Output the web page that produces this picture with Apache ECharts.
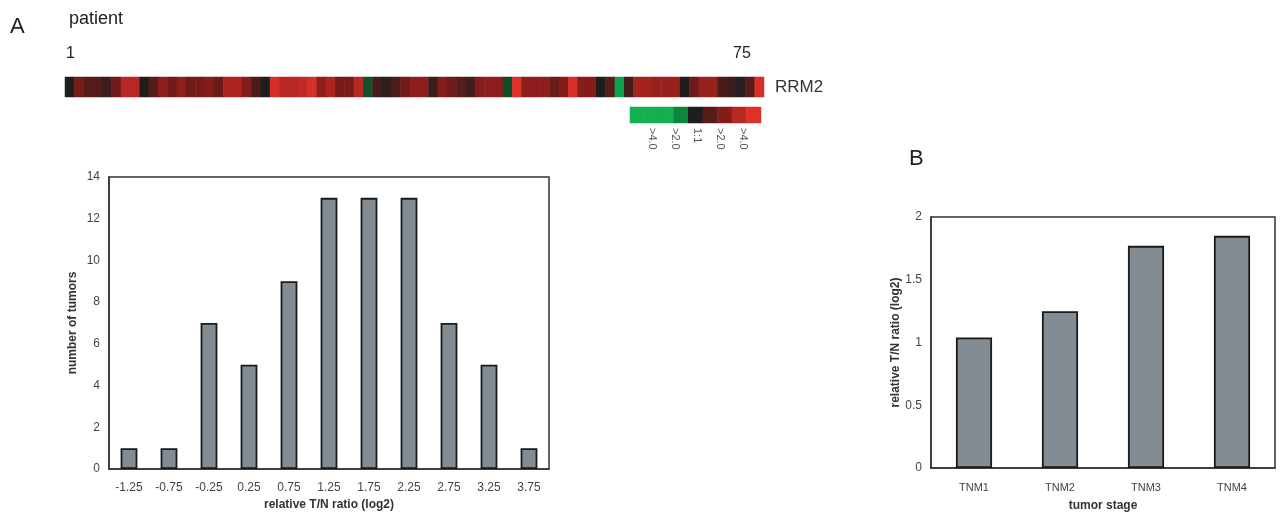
<!DOCTYPE html>
<html>
<head>
<meta charset="utf-8">
<script src="https://cdn.jsdelivr.net/npm/echarts@6/dist/echarts.min.js"></script>
<style>
  html, body { margin: 0; padding: 0; background: #fff; }
  #main { width: 1281px; height: 516px; }
</style>
</head>
<body>
<div id="main"></div>
<script>
// heatmap strip: log2 T/N ratio per patient (estimated from colours)
const patients = [];
for (let i = 1; i <= 75; i++) patients.push(String(i));
const rrm2Values = [
  0.0, 1.0, 0.6, 0.6, 0.3, 0.9, 1.6, 1.6, 0.0, 0.6,
  1.2, 0.9, 1.2, 0.9, 1.0, 1.1, 0.8, 1.5, 1.5, 1.1,
  0.5, 0.0, 1.9, 1.6, 1.6, 1.7, 1.9, 1.2, 1.5, 1.0,
  1.0, 1.6, -0.7, 0.4, 0.2, 0.5, 0.9, 1.2, 1.2, 0.3,
  1.1, 0.9, 0.6, 0.4, 1.1, 1.2, 1.2, -0.6, 2.0, 1.2,
  1.2, 1.2, 0.8, 1.1, 1.9, 1.1, 1.1, 0.0, 0.6, -1.8,
  0.4, 1.4, 1.4, 1.3, 1.3, 1.3, 0.0, 0.9, 1.3, 1.3,
  0.5, 0.3, 0.1, 0.6, 1.9
];
// colour key steps
const legendSteps = [-2, -2, -2, -1.4, 0, 0.6, 1.1, 1.6, 2];
const legendLabels = ['>4.0', '>2.0', '1:1', '>2.0', '>4.0'];

// histogram
const ratioBins = ['-1.25', '-0.75', '-0.25', '0.25', '0.75', '1.25', '1.75', '2.25', '2.75', '3.25', '3.75'];
const tumorCounts = [1, 1, 7, 5, 9, 13, 13, 13, 7, 5, 1];

// panel B
const stages = ['TNM1', 'TNM2', 'TNM3', 'TNM4'];
const stageRatios = [1.04, 1.25, 1.77, 1.85];

const font = 'Liberation Sans, Arial, sans-serif';
const chart = echarts.init(document.getElementById('main'));

const heatData = rrm2Values.map((v, i) => [i, 0, v]);
const keyData = legendSteps.map((v, i) => [i, 0, v]);
const keyX = [652, 675, 697, 720, 743];

const barStyle = {
  color: '#848c93',
  borderColor: '#1a1a1a',
  borderWidth: 1.8
};

const option = {
  backgroundColor: '#fff',
  textStyle: { fontFamily: font },
  animation: false,
  visualMap: {
    show: false,
    min: -2,
    max: 2,
    seriesIndex: [0, 1],
    inRange: { color: ['#12b050', '#0a6a30', '#1e1e1e', '#7a1a18', '#e0302a'] }
  },
  grid: [
    { left: 65, top: 77, width: 699, height: 20 },
    { left: 630, top: 107, width: 131, height: 16 },
    { left: 109, top: 177, width: 440, height: 292, show: true, borderColor: '#333', borderWidth: 1.5 },
    { left: 931, top: 217, width: 344, height: 251, show: true, borderColor: '#333', borderWidth: 1.5 }
  ],
  xAxis: [
    { gridIndex: 0, type: 'category', data: patients, show: false },
    { gridIndex: 1, type: 'category', data: legendSteps.map((v, i) => i), show: false },
    {
      gridIndex: 2, type: 'category', data: ratioBins,
      axisLine: { lineStyle: { color: '#333', width: 1.5 } },
      axisTick: { show: false },
      axisLabel: { color: '#444', fontSize: 12, margin: 13 },
      name: 'relative T/N ratio (log2)', nameLocation: 'middle', nameGap: 27,
      nameTextStyle: { color: '#333', fontSize: 12, fontWeight: 'bold' }
    },
    {
      gridIndex: 3, type: 'category', data: stages,
      axisLine: { lineStyle: { color: '#333', width: 1.5 } },
      axisTick: { show: false },
      axisLabel: { color: '#444', fontSize: 11, margin: 14 },
      name: 'tumor stage', nameLocation: 'middle', nameGap: 32,
      nameTextStyle: { color: '#333', fontSize: 12, fontWeight: 'bold' }
    }
  ],
  yAxis: [
    {
      gridIndex: 0, type: 'category', data: ['RRM2'], position: 'right',
      axisLine: { show: false }, axisTick: { show: false },
      axisLabel: { color: '#333', fontSize: 17, margin: 11 }
    },
    { gridIndex: 1, type: 'category', data: [''], show: false },
    {
      gridIndex: 2, type: 'value', min: 0, max: 14, interval: 2,
      splitLine: { show: false },
      axisLine: { show: true, lineStyle: { color: '#333', width: 1.5 } },
      axisTick: { show: false },
      axisLabel: { color: '#444', fontSize: 12, margin: 9 },
      name: 'number of tumors', nameLocation: 'middle', nameGap: 30,
      nameTextStyle: { color: '#333', fontSize: 12, fontWeight: 'bold' }
    },
    {
      gridIndex: 3, type: 'value', min: 0, max: 2, interval: 0.5,
      splitLine: { show: false },
      axisLine: { show: true, lineStyle: { color: '#333', width: 1.5 } },
      axisTick: { show: false },
      axisLabel: { color: '#444', fontSize: 12, margin: 9 },
      name: 'relative T/N ratio (log2)', nameLocation: 'middle', nameGap: 29,
      nameTextStyle: { color: '#333', fontSize: 12, fontWeight: 'bold' }
    }
  ],
  series: [
    { type: 'heatmap', xAxisIndex: 0, yAxisIndex: 0, data: heatData, itemStyle: { borderWidth: 0 } },
    { type: 'heatmap', xAxisIndex: 1, yAxisIndex: 1, data: keyData, itemStyle: { borderWidth: 0 } },
    { type: 'bar', xAxisIndex: 2, yAxisIndex: 2, data: tumorCounts, barWidth: '42%', itemStyle: barStyle },
    { type: 'bar', xAxisIndex: 3, yAxisIndex: 3, data: stageRatios, barWidth: '42%', itemStyle: barStyle }
  ],
  graphic: [
    { type: 'text', left: 10, top: 16, style: { text: 'A', fontSize: 22, fill: '#222', fontFamily: font } },
    { type: 'text', left: 69, top: 10, style: { text: 'patient', fontSize: 18, fill: '#222', fontFamily: font } },
    { type: 'text', left: 66, top: 46, style: { text: '1', fontSize: 16, fill: '#222', fontFamily: font } },
    { type: 'text', left: 733, top: 46, style: { text: '75', fontSize: 16, fill: '#222', fontFamily: font } },
    { type: 'text', left: 909, top: 148, style: { text: 'B', fontSize: 22, fill: '#222', fontFamily: font } }
  ].concat(legendLabels.map((t, i) => ({
    type: 'text', x: keyX[i], y: 128, rotation: -Math.PI / 2,
    style: { text: t, fontSize: 11, fill: '#555', fontFamily: font, align: 'left', verticalAlign: 'middle' }
  })))
};

chart.setOption(option);
</script>
</body>
</html>
